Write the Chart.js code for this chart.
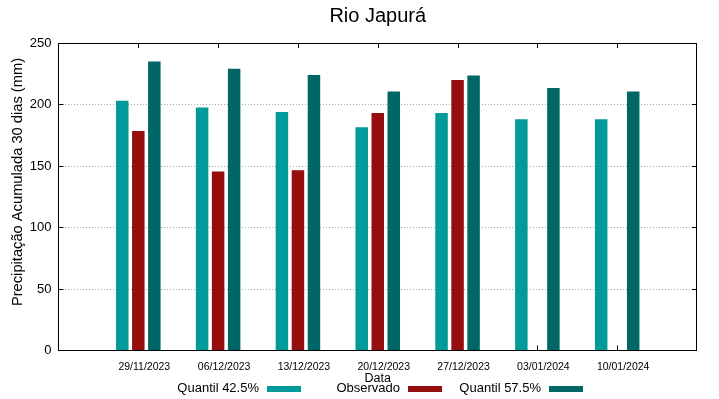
<!DOCTYPE html>
<html>
<head>
    <meta charset="utf-8">
    <title>Rio Japurá</title>
    <script src="https://cdn.jsdelivr.net/npm/chart.js"></script>
    <style>
        body { margin: 0; background: #fff; }
    </style>
</head>
<body>
    <canvas id="myChart" width="719" height="399"></canvas>

    <script>
        // values
        const dates = ['29/11/2023', '06/12/2023', '13/12/2023', '20/12/2023', '27/12/2023', '03/01/2024', '10/01/2024'];
        const quantil425 = [203, 197.5, 194, 181.5, 193, 188, 188];
        const observado = [178.5, 145.5, 146.5, 193, 220, null, null];
        const quantil575 = [235, 229, 224, 210.5, 223.5, 213.5, 210.5];
        const yTicks = [0, 50, 100, 150, 200, 250];

        // empty slot on each side so the x range runs one step past the first and last date
        const pad = arr => [null, ...arr, null];
        const labels = ['', ...dates, ''];

        Chart.defaults.font.family = "'Liberation Sans', Arial, sans-serif";
        Chart.defaults.color = '#000';

        // frame, inward tick marks, y title and gnuplot-like legend (text then swatch)
        const gnuplotBits = {
            id: 'gnuplotBits',
            beforeDatasetsDraw(chart) {
                const ctx = chart.ctx;
                const a = chart.chartArea;
                const x = chart.scales.x;
                const y = chart.scales.y;
                ctx.save();
                ctx.strokeStyle = '#000';
                ctx.lineWidth = 1;
                ctx.beginPath();
                x.ticks.forEach((t, i) => {
                    if (!labels[i]) return;
                    const px = Math.round(x.getPixelForTick(i)) + 0.5;
                    ctx.moveTo(px, a.bottom); ctx.lineTo(px, a.bottom - 5);
                    ctx.moveTo(px, a.top); ctx.lineTo(px, a.top + 5);
                });
                y.ticks.forEach((t, i) => {
                    const py = Math.floor(y.getPixelForTick(i)) + 0.5;
                    ctx.moveTo(a.left, py); ctx.lineTo(a.left + 5, py);
                    ctx.moveTo(a.right, py); ctx.lineTo(a.right - 5, py);
                });
                ctx.stroke();
                ctx.restore();
            },
            afterDraw(chart) {
                const ctx = chart.ctx;
                const a = chart.chartArea;
                const l = Math.floor(a.left) + 0.5;
                const t = Math.floor(a.top) + 0.5;
                const r = Math.floor(a.right) - 0.5;
                const b = Math.floor(a.bottom) + 0.5;
                ctx.save();
                ctx.strokeStyle = '#000';
                ctx.lineWidth = 1;
                ctx.strokeRect(l, t, r - l, b - t);

                // y axis title
                ctx.fillStyle = '#000';
                ctx.font = "14.7px 'Liberation Sans', Arial, sans-serif";
                ctx.textAlign = 'center';
                ctx.textBaseline = 'middle';
                ctx.translate(18, 182);
                ctx.rotate(-Math.PI / 2);
                ctx.fillText('Precipitação Acumulada 30 dias (mm)', 0, 0);
                ctx.restore();

                // legend
                const textRight = [259, 400, 541];
                ctx.save();
                ctx.font = "13px 'Liberation Sans', Arial, sans-serif";
                ctx.textAlign = 'right';
                ctx.textBaseline = 'middle';
                chart.data.datasets.forEach((ds, i) => {
                    ctx.fillStyle = '#000';
                    ctx.fillText(ds.label, textRight[i], 388);
                    ctx.fillStyle = ds.backgroundColor;
                    ctx.fillRect(textRight[i] + 8, 386, 34, 6);
                });
                ctx.restore();
            }
        };

        const ctx = document.getElementById('myChart').getContext('2d');
        window.myChart = new Chart(ctx, {
            type: 'bar',
            data: {
                labels: labels,
                datasets: [
                    {
                        label: 'Quantil 42.5%',
                        data: pad(quantil425),
                        backgroundColor: '#009a9a'
                    },
                    {
                        label: 'Observado',
                        data: pad(observado),
                        backgroundColor: '#950d0d'
                    },
                    {
                        label: 'Quantil 57.5%',
                        data: pad(quantil575),
                        backgroundColor: '#006766'
                    }
                ]
            },
            options: {
                responsive: false,
                animation: false,
                events: [],
                categoryPercentage: 0.602,
                barPercentage: 0.78,
                layout: { padding: { left: 0, right: 22, top: 0, bottom: 0 } },
                plugins: {
                    legend: { display: false },
                    tooltip: { enabled: false },
                    title: {
                        display: true,
                        text: 'Rio Japurá',
                        fullSize: false,
                        color: '#000',
                        font: { size: 20, weight: 'normal' },
                        padding: { top: 4, bottom: 15 }
                    }
                },
                scales: {
                    x: {
                        offset: false,
                        grid: { display: false, drawTicks: false },
                        border: { display: false },
                        ticks: {
                            autoSkip: false,
                            maxRotation: 0,
                            padding: 10,
                            labelOffset: 6,
                            font: { size: 10.5 }
                        },
                        title: {
                            display: true,
                            text: 'Data',
                            font: { size: 12.5 },
                            padding: { top: 0, bottom: 12.5 }
                        },
                        afterFit(scale) { scale.height = 48.5; }
                    },
                    y: {
                        min: 0,
                        max: 250,
                        afterBuildTicks(scale) { scale.ticks = yTicks.map(v => ({ value: v })); },
                        grid: {
                            drawTicks: false,
                            color: c => (c.tick && (c.tick.value === 0 || c.tick.value === 250)) ? 'rgba(0,0,0,0)' : '#a8a8a8'
                        },
                        border: { display: false, dash: [1, 2] },
                        ticks: { padding: 7, font: { size: 13 } },
                        afterFit(scale) { scale.width = 58.5; }
                    }
                }
            },
            plugins: [gnuplotBits]
        });
    </script>
</body>
</html>
